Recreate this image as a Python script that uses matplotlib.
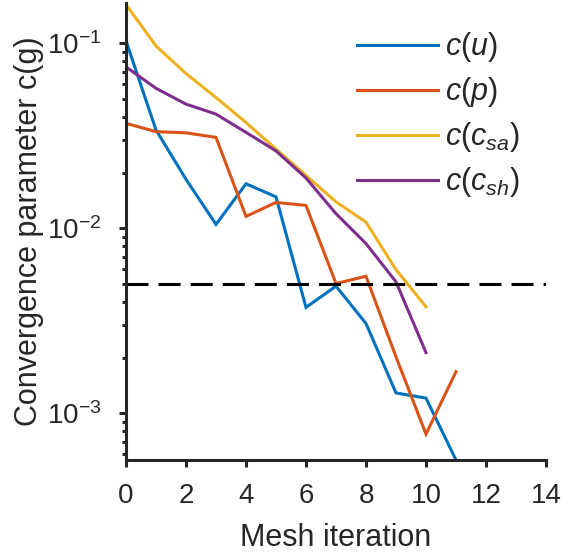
import matplotlib
matplotlib.use("Agg")
import matplotlib.pyplot as plt
from matplotlib.ticker import LogLocator, NullFormatter

plt.rcParams['font.family'] = ['Liberation Sans', 'DejaVu Sans']
plt.rcParams['mathtext.fontset'] = 'custom'
plt.rcParams['mathtext.rm'] = 'Liberation Sans'
plt.rcParams['mathtext.it'] = 'Liberation Sans:italic'
plt.rcParams['mathtext.bf'] = 'Liberation Sans:bold'

x_u = [0, 1, 2, 3, 4, 5, 6, 7, 8, 9, 10, 11]
c_u = [0.103, 0.034, 0.0184, 0.0105, 0.0174, 0.0148, 0.00374, 0.00487, 0.00306, 0.00129, 0.00121, 0.00056]
x_p = [0, 1, 2, 3, 4, 5, 6, 7, 8, 9, 10, 11]
c_p = [0.0369, 0.0333, 0.0328, 0.031, 0.0116, 0.0138, 0.0133, 0.00503, 0.00551, 0.00202, 0.000773, 0.00168]
x_sa = [0, 1, 2, 3, 4, 5, 6, 7, 8, 9, 10]
c_sa = [0.162, 0.0967, 0.0686, 0.0509, 0.0373, 0.0268, 0.0193, 0.0139, 0.0108, 0.00598, 0.00377]
x_sh = [0, 1, 2, 3, 4, 5, 6, 7, 8, 9, 10]
c_sh = [0.0745, 0.0571, 0.0469, 0.0414, 0.033, 0.0262, 0.0187, 0.012, 0.00827, 0.00514, 0.00213]
threshold = 5e-3
labels = [r'$c(u)$', r'$c(p)$', r'$c(c_{sa})$', r'$c(c_{sh})$']
colors = ['#0072BD', '#D95319', '#EDB120', '#7E2F8E']

fig = plt.figure(figsize=(5.61, 5.60), dpi=100)
ax = fig.add_axes([126/561, 1-460/560, 420/561, 457/560])

lw = 2.2
for xs, ys, lab, col in zip([x_u, x_p, x_sa, x_sh], [c_u, c_p, c_sa, c_sh], labels, colors):
    ax.plot(xs, ys, color=col, lw=lw, label=lab, solid_joinstyle='miter')
ax.axhline(threshold, color='black', lw=lw, linestyle=(0, (7.2, 3.3)))

ax.set_yscale('log')
ax.set_xlim(0, 14)
ax.set_ylim(5.6e-4, 0.165)
ax.set_xticks(range(0, 15, 2))
ax.yaxis.set_major_locator(LogLocator(base=10, numticks=10))
ax.yaxis.set_minor_locator(LogLocator(base=10, subs=range(2, 10), numticks=20))
ax.yaxis.set_minor_formatter(NullFormatter())

dark = '#262626'
for side in ['top', 'right']:
    ax.spines[side].set_visible(False)
for side in ['left', 'bottom']:
    ax.spines[side].set_color(dark)
    ax.spines[side].set_linewidth(2.2)
ax.tick_params(which='major', direction='out', length=5, width=2.2, colors=dark, labelsize=20)
ax.tick_params(which='minor', direction='out', length=3, width=2.2, colors=dark)
ax.tick_params(axis='x', which='major', pad=11.5)
ax.tick_params(axis='y', which='major', pad=13)

ax.set_xlabel('Mesh iteration', fontsize=22, color=dark, labelpad=10)
ax.set_ylabel('Convergence parameter c(g)', fontsize=22, color=dark, labelpad=1.5)

leg = ax.legend(loc='upper right', bbox_to_anchor=(0.988, 0.987), frameon=False, fontsize=22,
                handlelength=2.62, handletextpad=0.25, labelspacing=0.36, borderaxespad=0.3)
for t in leg.get_texts():
    t.set_color(dark)

fig.savefig('out.png', dpi=100)
